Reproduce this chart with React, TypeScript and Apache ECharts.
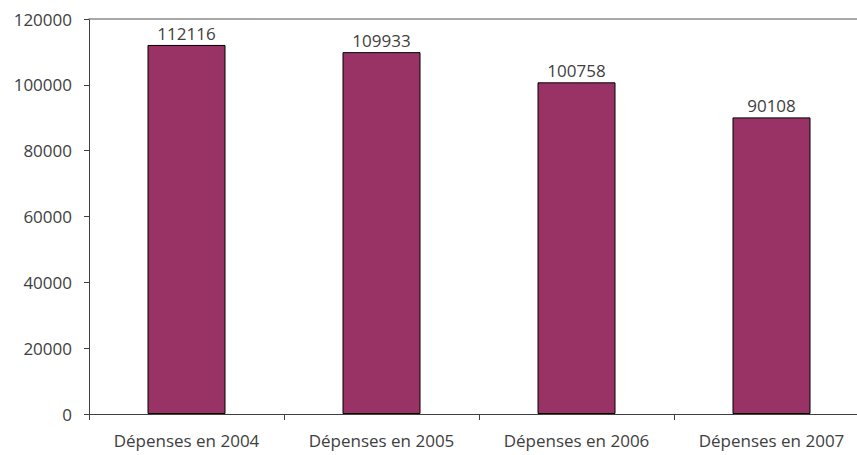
import React, { useEffect, useRef } from "react";
import * as echarts from "echarts";

const categories = ["Dépenses en 2004", "Dépenses en 2005", "Dépenses en 2006", "Dépenses en 2007"];
const values = [112116, 109933, 100758, 90108];
const yTicks = { min: 0, max: 120000, interval: 20000 };

export default function App() {
  const ref = useRef<HTMLDivElement>(null);
  useEffect(() => {
    if (!ref.current) return;
    const chart = echarts.init(ref.current, null, { renderer: "svg" });
    const font = "'Open Sans', sans-serif";
    chart.setOption({
      animation: false,
      grid: { left: 89, width: 780, top: 19, height: 395, containLabel: false, outerBoundsMode: "none" },
      xAxis: [
        {
          type: "category",
          data: categories,
          position: "bottom",
          axisLine: { lineStyle: { color: "#404040", width: 1 } },
          axisTick: { show: true, length: 6, alignWithLabel: false, lineStyle: { color: "#404040" } },
          axisLabel: { color: "#404040", fontSize: 17, fontFamily: font, margin: 18, interval: 0 },
          splitLine: { show: false },
        },
        {
          type: "category",
          data: categories,
          position: "top",
          axisLine: { lineStyle: { color: "#8c8c8c", width: 1.5 } },
          axisTick: { show: false },
          axisLabel: { show: false },
        },
      ],
      yAxis: {
        type: "value",
        min: yTicks.min,
        max: yTicks.max,
        interval: yTicks.interval,
        axisLine: { show: true, lineStyle: { color: "#404040", width: 1 } },
        axisTick: { show: true, length: 5, lineStyle: { color: "#404040" } },
        axisLabel: {
          color: "#404040",
          fontSize: 17,
          fontFamily: font,
          margin: 17,
          formatter: (v: number) => String(v),
        },
        splitLine: { show: false },
      },
      series: [
        {
          type: "bar",
          data: values,
          barWidth: "40%",
          itemStyle: { color: "#993366", borderColor: "#000", borderWidth: 1 },
          label: {
            show: true,
            position: "top",
            distance: 3,
            color: "#404040",
            fontSize: 17,
            fontFamily: font,
          },
        },
      ],
    });
    return () => chart.dispose();
  }, []);
  return <div ref={ref} style={{ width: 857, height: 455, position: "absolute", left: 0, top: 0 }} />;
}
